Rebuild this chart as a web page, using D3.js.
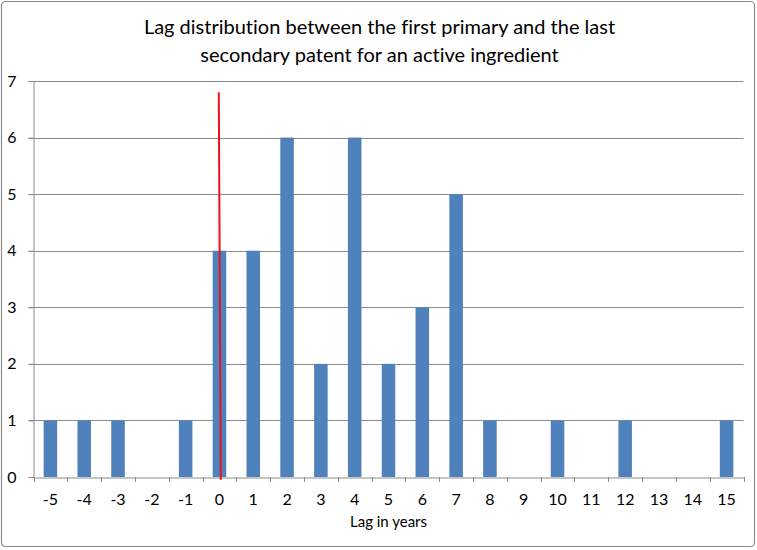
<!DOCTYPE html>
<html><head><meta charset="utf-8">
<script src="https://cdn.jsdelivr.net/npm/d3@7"></script>
<style>body{margin:0;background:#fff}svg{display:block}text{font-family:Lato,"Open Sans",sans-serif;fill:#000;font-variant-ligatures:none}</style>
</head><body><svg id="c" width="757" height="550"></svg>
<script>
const categories = ["-5","-4","-3","-2","-1","0","1","2","3","4","5","6","7","8","9","10","11","12","13","14","15"];
const counts = [1,1,1,0,1,4,4,6,2,6,2,3,5,1,0,1,0,1,0,0,1];
const yTicks = [0,1,2,3,4,5,6,7];
const titleLines = ["Lag distribution between the first primary and the last","secondary patent for an active ingredient"];
const xTitle = "Lag in years";
const markerLine = [{lag:-0.02, v:6.8},{lag:0.04, v:-0.05}];

const svg = d3.select("#c");
const W = 757, H = 550;
const m = {l:33.5, r:13.5, t:81, b:73};
svg.append("rect").attr("x",1.5).attr("y",1.5).attr("width",W-4).attr("height",H-5)
  .attr("rx",4).attr("fill","#fff").attr("stroke","#8c8c8c").attr("stroke-width",1.2);

const x = d3.scaleBand().domain(categories).range([m.l, W-m.r]).paddingInner(0.6).paddingOuter(0.3);
const xOuter = d3.scaleBand().domain(categories).range([m.l, W-m.r]);
const y = d3.scaleLinear().domain([0,7]).range([H-m.b, m.t]);
const xLin = d3.scaleLinear().domain([-5,15])
  .range([xOuter("-5")+xOuter.bandwidth()/2, xOuter("15")+xOuter.bandwidth()/2]);

// gridlines
svg.append("g").selectAll("line").data(yTicks.filter(d=>d>0)).join("line")
  .attr("x1",m.l-5).attr("x2",W-m.r).attr("y1",d=>Math.round(y(d))+0.5).attr("y2",d=>Math.round(y(d))+0.5)
  .attr("stroke","#8c8c8c").attr("stroke-width",1);

// bars
svg.append("g").selectAll("rect").data(categories).join("rect")
  .attr("x",(d)=>x(d)).attr("width",x.bandwidth())
  .attr("y",(d,i)=>y(counts[i])).attr("height",(d,i)=>y(0)-y(counts[i]))
  .attr("fill","#4f81bd");

// y axis
const ya = d3.axisLeft(y).tickValues(yTicks).tickSize(5).tickPadding(12).tickFormat(d3.format("d"));
const yg = svg.append("g").attr("transform",`translate(${m.l},0)`).call(ya);
yg.select(".domain").attr("stroke","#8c8c8c");
yg.selectAll(".tick line").attr("stroke","#8c8c8c");
yg.selectAll(".tick text").attr("font-size",16).style("font-family","Lato,'Open Sans',sans-serif");

// x axis
const xa = d3.axisBottom(xOuter).tickSize(0).tickPadding(16);
const xg = svg.append("g").attr("transform",`translate(0,${Math.round(y(0))+0.5})`).call(xa);
xg.select(".domain").attr("stroke","#8c8c8c");
xg.selectAll(".tick text").attr("font-size",16).style("font-family","Lato,'Open Sans',sans-serif");
// tick marks at category boundaries
svg.append("g").selectAll("line").data(d3.range(categories.length+1)).join("line")
  .attr("x1",i=>Math.round(m.l+i*xOuter.step())+0.5).attr("x2",i=>Math.round(m.l+i*xOuter.step())+0.5)
  .attr("y1",y(0)).attr("y2",y(0)+5).attr("stroke","#8c8c8c");

// red marker line
svg.append("path").datum(markerLine)
  .attr("d",d3.line().x(d=>xLin(d.lag)).y(d=>y(d.v)))
  .attr("stroke","#e8131b").attr("stroke-width",2).attr("fill","none");

// titles
svg.append("g").selectAll("text").data(titleLines).join("text")
  .attr("x",W/2+1).attr("y",(d,i)=>34+i*28).attr("text-anchor","middle")
  .attr("font-size",20).text(d=>d);
svg.append("text").attr("x",(m.l+W-m.r)/2).attr("y",527).attr("text-anchor","middle")
  .attr("font-size",15).text(xTitle);
</script></body></html>
